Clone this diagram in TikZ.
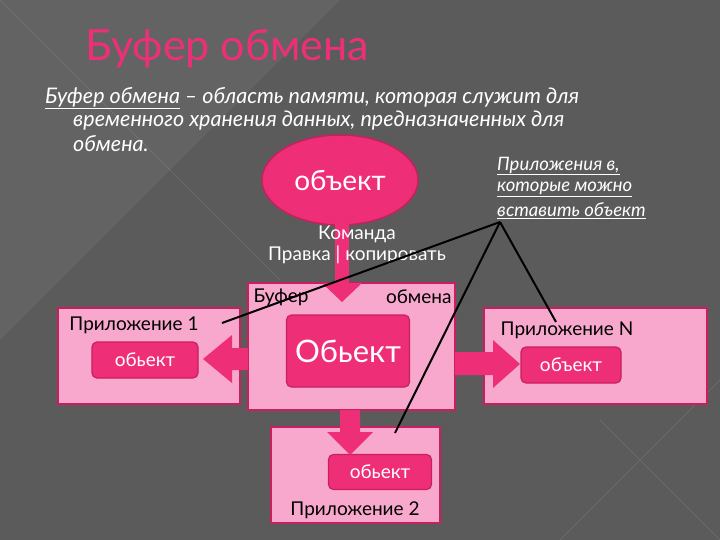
\documentclass[tikz,border=0pt]{standalone}
\usepackage{fontspec}
\setmainfont{Lato}
\usetikzlibrary{shapes.geometric,shapes.arrows}
\definecolor{bg}{HTML}{5B5B5B}
\definecolor{hot}{HTML}{EE2F78}
\definecolor{hotd}{HTML}{C8205E}
\definecolor{light}{HTML}{F8A8CC}
\begin{document}
\begin{tikzpicture}[x=1pt,y=-1pt,
  box/.style={draw=hotd,line width=1.5pt,fill=light},
  inner/.style={draw=hotd,line width=1.2pt,fill=hot,rounded corners=5pt},
  arr/.style={fill=hot,draw=none},
  lbl/.style={font=\fontsize{19}{22}\selectfont,text=black},
  wt/.style={font=\fontsize{19}{22}\selectfont,text=white},
  pt/.style={font=\fontsize{21.5}{25}\selectfont\itshape,text=white,anchor=west,inner sep=0pt},
  qt/.style={font=\fontsize{18.5}{22}\selectfont\itshape,text=white,anchor=west,inner sep=0pt},
  link/.style={line width=2pt,black}]
\useasboundingbox (0,0) rectangle (720,540);
\fill[bg] (0,0) rectangle (720,540);
\fill[white,opacity=0.05] (0,0) -- (340,0) -- (0,340) -- cycle;
\draw[white,opacity=0.12] (0,0) -- (280,280);
\draw[white,opacity=0.12] (560,540) -- (720,380);
\draw[white,opacity=0.12] (600,420) -- (720,540);
% title
\node[font=\fontsize{43}{48}\selectfont,text=hot,anchor=west] (title) at (82,49) {Буфер обмена};
% paragraph
\node[pt] (p1) at (45,98) {\underline{Буфер обмена} – область памяти, которая служит для};
\node[pt] (p2) at (73,121) {временного хранения данных, предназначенных для};
\node[pt] (p3) at (73,144) {обмена.};
% ellipse
\node[ellipse,fill=hot,draw=hotd,line width=1.5pt,minimum width=156pt,minimum height=90pt,
  font=\fontsize{28}{32}\selectfont,text=white] (obj) at (340,180) {объект};
% buffer box
\draw[box] (248,283) rectangle (455,410);
% arrow down from ellipse
\fill[arr] (335,224) rectangle (349,285);
\fill[arr] (322,283) -- (362,283) -- (342,302) -- cycle;
\node[wt,align=center,font=\fontsize{19}{21}\selectfont] (cmd) at (357,245) {Команда\\Правка | копировать};
\node[lbl,anchor=west] (b1) at (250,297) {Буфер};
\node[lbl,anchor=east] (b2) at (455,297) {обмена};
\node[inner,minimum width=123pt,minimum height=72pt,font=\fontsize{31}{34}\selectfont,text=white] (Obj) at (348,351) {Обьект};
% app1
\draw[box] (58,308) rectangle (240,404);
\node[lbl] (a1) at (134,325) {Приложение 1};
\node[inner,minimum width=106pt,minimum height=36pt,wt] (o1) at (145,360) {обьект};
% app N
\draw[box] (484,308) rectangle (707,404);
\node[lbl] (an) at (567,330) {Приложение N};
\node[inner,minimum width=100pt,minimum height=36pt,wt] (on) at (571,365) {объект};
% app2
\draw[box] (271,427) rectangle (440,523);
\node[lbl] (a2) at (355,510) {Приложение 2};
\node[inner,minimum width=103pt,minimum height=35pt,wt] (o2) at (380,472) {обьект};
% arrows
\fill[arr] (248,348) -- (232,348) -- (232,335) -- (203,359) -- (232,383) -- (232,370) -- (248,370) -- cycle;
\fill[arr] (455,352) -- (493,352) -- (493,340) -- (520,364) -- (493,388) -- (493,375) -- (455,375) -- cycle;
\fill[arr] (340,410) -- (360,410) -- (360,432) -- (373,432) -- (350,455) -- (327,432) -- (340,432) -- cycle;
% links
\node[qt] (q1) at (497,166) {\underline{Приложения в,}};
\node[qt] (q2) at (497,189) {\underline{которые можно}};
\node[qt] (q3) at (497,211) {\underline{вставить объект}};
\coordinate (hub) at (500,222);
\coordinate (e1) at (222,323);
\coordinate (e2) at (395,433);
\coordinate (e3) at (556,322);
\draw[link] (hub) -- (e1);
\draw[link] (hub) -- (e2);
\draw[link] (hub) -- (e3);
\end{tikzpicture}
\end{document}
